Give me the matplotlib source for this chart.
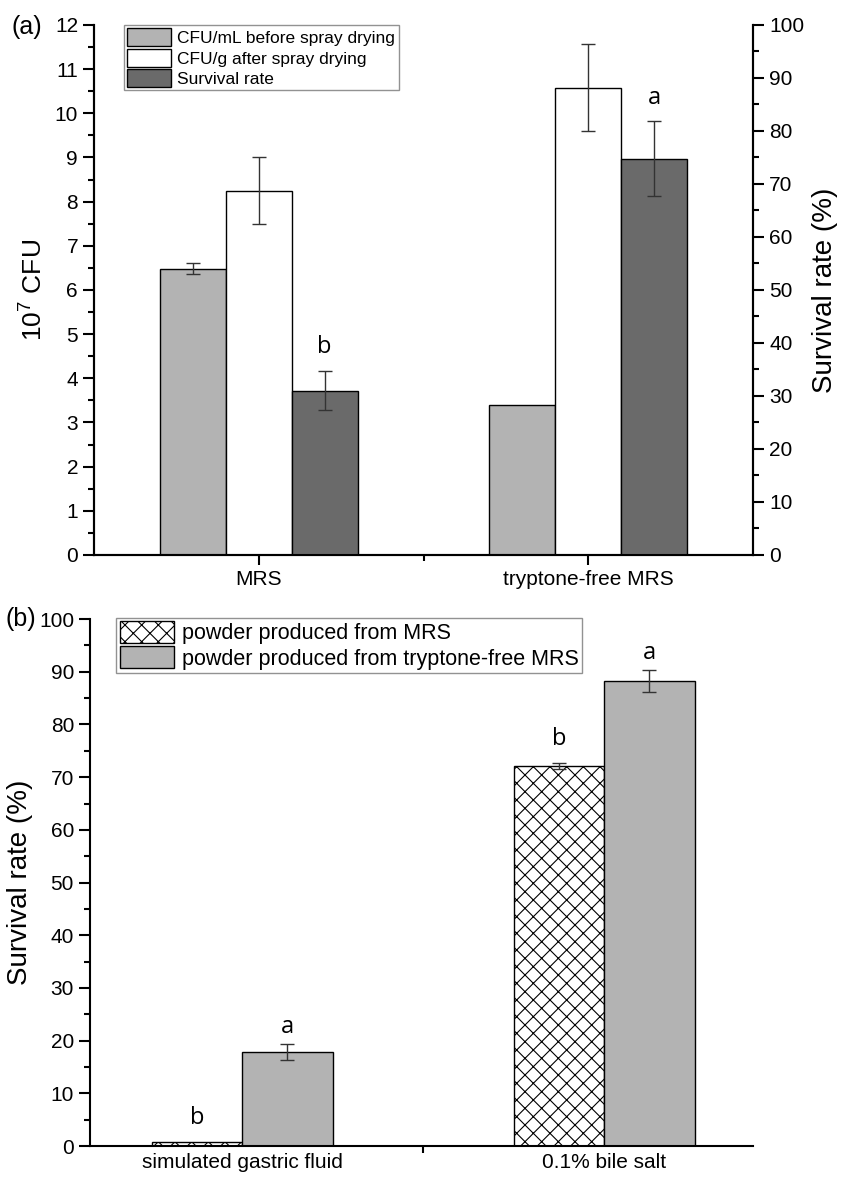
import numpy as np
import matplotlib
matplotlib.use("Agg")
import matplotlib.pyplot as plt
from matplotlib.ticker import MultipleLocator, FixedLocator

plt.rcParams['font.family'] = ['Liberation Sans', 'DejaVu Sans']
plt.rcParams['hatch.linewidth'] = 0.8
plt.rcParams['mathtext.fontset'] = 'custom'
plt.rcParams['mathtext.rm'] = 'Liberation Sans'

# ---- panel (a) data ----
media = ["MRS", "tryptone-free MRS"]
cfu_before = [6.48, 3.40]          # 10^7 CFU/mL
cfu_before_err = [0.12, 0.0]
cfu_after = [8.25, 10.58]          # 10^7 CFU/g
cfu_after_err = [0.75, 0.98]
survival = [31.0, 74.8]            # %
survival_err = [3.7, 7.0]
survival_letters = ["b", "a"]

# ---- panel (b) data ----
tests = ["simulated gastric fluid", "0.1% bile salt"]
rate_mrs = [0.8, 72.1]
rate_mrs_err = [0.0, 0.6]
rate_tf = [17.8, 88.2]
rate_tf_err = [1.55, 2.1]
letters_mrs = ["b", "b"]
letters_tf = ["a", "a"]

light = "#b3b3b3"
dark = "#6a6a6a"
errc = "#333333"

fig = plt.figure(figsize=(8.41, 11.77), dpi=100)

# ================= (a) =================
ax = fig.add_axes([0.1118, 0.5285, 0.7836, 0.4503])
ax2 = ax.twinx()
x = np.arange(1, len(media) + 1)
w = 0.2
ekw = dict(ecolor=errc, elinewidth=1, capsize=5, capthick=1)

ax.bar(x - w, cfu_before, w, color=light, edgecolor="k", lw=1,
       label="CFU/mL before spray drying", zorder=2)
ax.errorbar(x[:1] - w, cfu_before[:1], yerr=cfu_before_err[:1], fmt="none", **ekw, zorder=3)
ax.bar(x, cfu_after, w, color="white", edgecolor="k", lw=1,
       label="CFU/g after spray drying", zorder=2)
ax.errorbar(x, cfu_after, yerr=cfu_after_err, fmt="none", **ekw, zorder=3)
ax2.bar(x + w, survival, w, color=dark, edgecolor="k", lw=1, label="Survival rate", zorder=2)
ax2.errorbar(x + w, survival, yerr=survival_err, fmt="none", **ekw, zorder=3)
for xi, s, e, t in zip(x + w, survival, survival_err, survival_letters):
    ax2.text(xi, s + e + 4.5, t, ha="center", va="center", fontsize=17, family="Open Sans")

ax.set_xlim(0.5, 2.5)
ax.set_ylim(0, 12)
ax2.set_ylim(0, 100)
ax.yaxis.set_major_locator(MultipleLocator(1))
ax.yaxis.set_minor_locator(MultipleLocator(0.5))
ax2.yaxis.set_major_locator(MultipleLocator(10))
ax2.yaxis.set_minor_locator(MultipleLocator(5))
ax.set_xticks(x)
ax.set_xticklabels(media, fontsize=15)
ax.xaxis.set_minor_locator(FixedLocator([1.5]))
for a in (ax, ax2):
    a.spines["top"].set_visible(False)
    for s in a.spines.values():
        s.set_linewidth(1.5)
    a.tick_params(which="major", length=8, width=1.5, labelsize=15)
    a.tick_params(which="minor", length=4, width=1.5)
ax.tick_params(axis="x", which="major", length=7, pad=4)
ax.tick_params(axis="x", which="minor", length=4)
ax.set_ylabel("10$^{7}$ CFU", fontsize=19, labelpad=6)
ax2.set_ylabel("Survival rate (%)", fontsize=20, labelpad=6)

h1, l1 = ax.get_legend_handles_labels()
h2, l2 = ax2.get_legend_handles_labels()
leg = ax.legend(h1 + h2, l1 + l2, loc="upper left", bbox_to_anchor=(0.045, 1.0),
                fontsize=12.5, frameon=True, fancybox=False, edgecolor="#777777",
                handlelength=2.5, handleheight=1.2, handletextpad=0.4,
                borderpad=0.2, labelspacing=0.15, borderaxespad=0)
leg.get_frame().set_linewidth(1)
fig.text(0.014, 0.977, "(a)", fontsize=18, va="center")

# ================= (b) =================
bx = fig.add_axes([0.107, 0.0263, 0.788, 0.4477])
xb = np.arange(1, len(tests) + 1)
wb = 0.25
bx.bar(xb - wb / 2, rate_mrs, wb, color="white", edgecolor="k", lw=1, hatch="xx",
       label="powder produced from MRS", zorder=2)
bx.errorbar(xb[1:] - wb / 2, rate_mrs[1:], yerr=rate_mrs_err[1:], fmt="none", **ekw, zorder=3)
bx.bar(xb + wb / 2, rate_tf, wb, color=light, edgecolor="k", lw=1,
       label="powder produced from tryptone-free MRS", zorder=2)
bx.errorbar(xb + wb / 2, rate_tf, yerr=rate_tf_err, fmt="none", **ekw, zorder=3)
for xi, v, e, t in zip(xb - wb / 2, rate_mrs, rate_mrs_err, letters_mrs):
    bx.text(xi, v + e + 4.5, t, ha="center", va="center", fontsize=17, family="Open Sans")
for xi, v, e, t in zip(xb + wb / 2, rate_tf, rate_tf_err, letters_tf):
    bx.text(xi, v + e + 3.3, t, ha="center", va="center", fontsize=17, family="Open Sans")

bx.set_xlim(0.58, 2.41)
bx.set_ylim(0, 100)
bx.yaxis.set_major_locator(MultipleLocator(10))
bx.yaxis.set_minor_locator(MultipleLocator(5))
bx.set_xticks(xb)
bx.set_xticklabels(tests, fontsize=16)
bx.xaxis.set_minor_locator(FixedLocator([1.5]))
bx.spines["top"].set_visible(False)
bx.spines["right"].set_visible(False)
for s in bx.spines.values():
    s.set_linewidth(1.5)
bx.tick_params(which="major", length=8, width=1.5, labelsize=15)
bx.tick_params(which="minor", length=4, width=1.5)
bx.tick_params(axis="x", which="major", length=0, pad=5)
bx.tick_params(axis="x", which="minor", length=5)
bx.set_ylabel("Survival rate (%)", fontsize=20, labelpad=4)
legb = bx.legend(loc="upper left", bbox_to_anchor=(0.04, 1.003), fontsize=15.5,
                 frameon=True, fancybox=False, edgecolor="#777777",
                 handlelength=2.5, handleheight=1.2, handletextpad=0.4,
                 borderpad=0.15, labelspacing=0.1, borderaxespad=0)
legb.get_frame().set_linewidth(1)
fig.text(0.006, 0.474, "(b)", fontsize=18, va="center")

fig.savefig("out.png", dpi=100)
